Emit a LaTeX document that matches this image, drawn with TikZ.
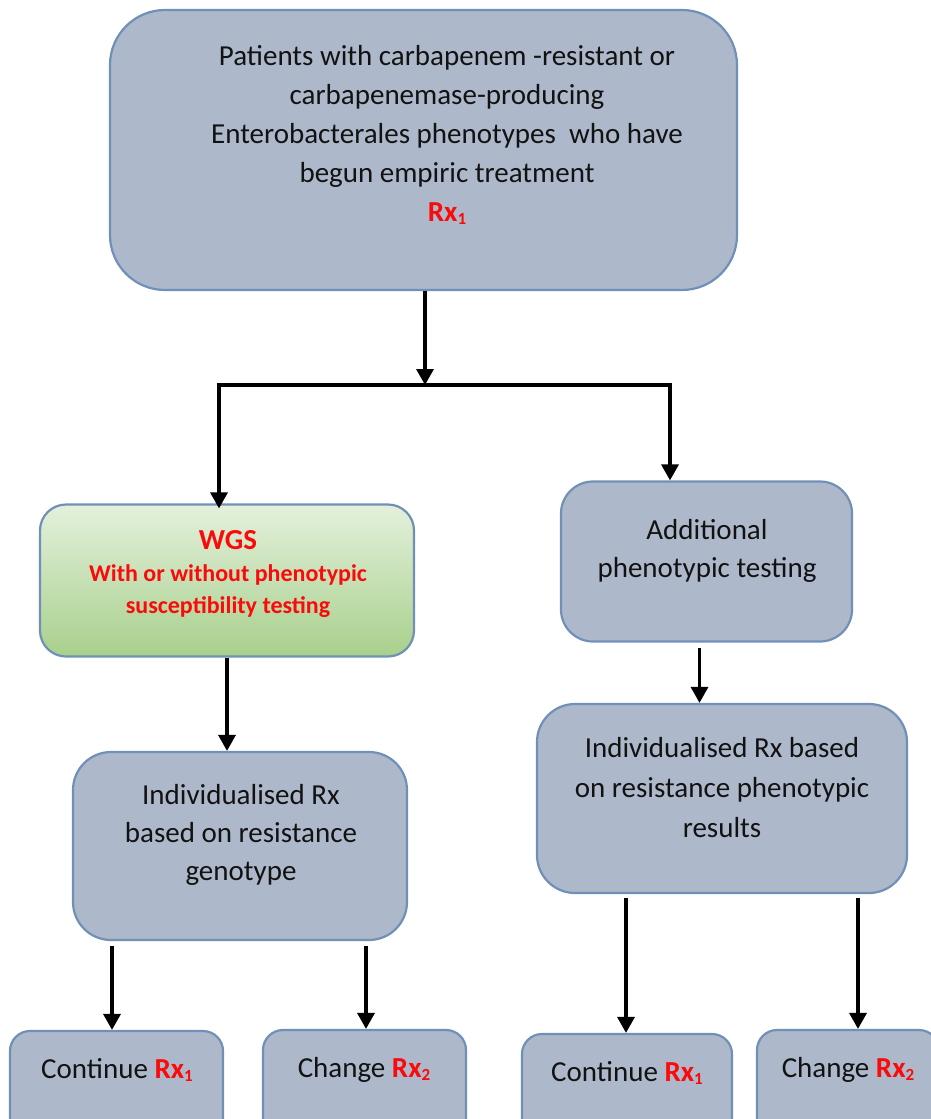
\documentclass[tikz,border=0pt]{standalone}
\usepackage{fontspec}
\setmainfont{Carlito}
\usetikzlibrary{arrows.meta}
\definecolor{boxfill}{RGB}{173,185,202}
\definecolor{bord}{RGB}{112,144,184}
\definecolor{gtop}{RGB}{228,240,220}
\definecolor{gbot}{RGB}{168,208,140}
\definecolor{ink}{RGB}{18,18,18}
\definecolor{rxred}{RGB}{250,10,10}
\newcommand{\subd}[1]{\raisebox{-0.22ex}{\fontsize{17}{17}\selectfont #1}}
\newcommand{\rxa}{{\color{rxred}\bfseries Rx\subd{1}}}
\newcommand{\rxb}{{\color{rxred}\bfseries Rx\subd{2}}}
\tikzset{
  x=1pt, y=-1pt,
  box/.style={draw=bord, fill=boxfill, line width=2.2pt, inner sep=0pt, rectangle},
  gbox/.style={draw=bord, top color=gtop, bottom color=gbot, line width=2.2pt, inner sep=0pt, rectangle},
  txt/.style={align=center, text=ink, inner sep=0pt, font=\fontsize{29}{39}\selectfont},
  wgstxt/.style={align=center, text=rxred, inner sep=0pt, font=\fontsize{24}{32}\selectfont\bfseries},
  arr/.style={line width=3.3pt, draw=black, -{Triangle[width=17pt,length=16pt]}},
  ln/.style={line width=3.3pt, draw=black, line cap=rect},
}
\begin{document}
\begin{tikzpicture}
\useasboundingbox (0,0) rectangle (931,1119);
\clip (0,0) rectangle (931,1119);
% boxes
\node[box, rounded corners=55pt, minimum width=627pt, minimum height=280pt] (top) at (423.5,150) {};
\node[gbox, rounded corners=26pt, minimum width=374pt, minimum height=152pt] (wgs) at (227,580.5) {};
\node[box, rounded corners=32pt, minimum width=291pt, minimum height=160pt] (add) at (706.5,561.5) {};
\node[box, rounded corners=38pt, minimum width=334pt, minimum height=188pt] (geno) at (240,846) {};
\node[box, rounded corners=38pt, minimum width=370pt, minimum height=189pt] (pheno) at (722,798.5) {};
\node[box, rounded corners=20pt, minimum width=213pt, minimum height=110pt] (c1) at (116.5,1086) {};
\node[box, rounded corners=20pt, minimum width=203pt, minimum height=110pt] (h1) at (364.5,1085) {};
\node[box, rounded corners=20pt, minimum width=210pt, minimum height=110pt] (c2) at (627,1089) {};
\node[box, rounded corners=20pt, minimum width=182pt, minimum height=110pt] (h2) at (848,1085) {};
% texts
\node[txt] (toptext) at (447,135) {Patients with carbapenem -resistant or\\carbapenemase-producing\\Enterobacterales phenotypes\ \ who have\\begun empiric treatment\\\rxa};
\node[txt, text=rxred, font=\fontsize{29}{35}\selectfont\bfseries] (wgst) at (228,540) {WGS};
\node[wgstxt] (wgss) at (228,591) {With or without phenotypic\\susceptibility testing};
\node[txt, font=\fontsize{29}{38}\selectfont] (addt) at (707,551) {Additional\\phenotypic testing};
\node[txt, font=\fontsize{29}{38}\selectfont] (genot) at (241,835) {Individualised Rx\\based on resistance\\genotype};
\node[txt, font=\fontsize{29}{40}\selectfont] (phenot) at (722,788) {Individualised Rx based\\on resistance phenotypic\\results};
\node[txt] (c1t) at (117,1070) {Continue \rxa};
\node[txt] (h1t) at (364,1070) {Change \rxb};
\node[txt] (c2t) at (627,1073) {Continue \rxa};
\node[txt] (h2t) at (848,1070) {Change \rxb};
% connectors
\coordinate (j) at (425,385);
\coordinate (jl) at (219,385);
\coordinate (jr) at (670,385);
\draw[arr] (top.south -| j) -- (j);
\draw[ln] (jl) -- (jr);
\draw[arr] (jl) -- ([yshift=-5pt]wgs.north -| jl);
\draw[arr] (jr) -- (add.north -| jr);
\draw[arr] (wgs.south) -- (wgs.south |- geno.north);
\coordinate (ad) at ([xshift=-7pt]add.south);
\draw[arr, shorten <=5pt] (ad) -- (ad |- pheno.north);
\coordinate (g1) at ([xshift=-128pt]geno.south);
\coordinate (g2) at ([xshift=126pt]geno.south);
\draw[arr, shorten <=5pt] (g1) -- (g1 |- c1.north);
\draw[arr, shorten <=5pt] (g2) -- (g2 |- h1.north);
\coordinate (p1) at ([xshift=-96pt]pheno.south);
\coordinate (p2) at ([xshift=136pt]pheno.south);
\draw[arr, shorten <=4pt] (p1) -- (p1 |- c2.north);
\draw[arr, shorten <=4pt] (p2) -- (p2 |- h2.north);
\end{tikzpicture}
\end{document}
